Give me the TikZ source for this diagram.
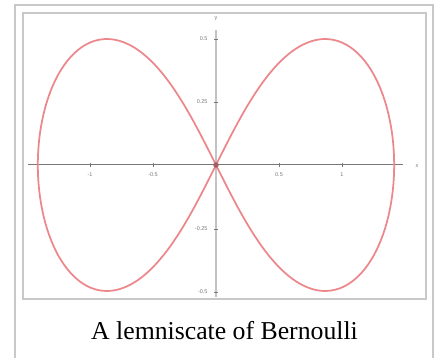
\documentclass[tikz,border=0pt]{standalone}
\usepackage{fontspec}
\setmainfont{Liberation Serif}
\setsansfont{Liberation Sans}
\definecolor{framegray}{RGB}{200,200,200}
\definecolor{axisgray}{RGB}{120,120,120}
\definecolor{yaxisgray}{RGB}{195,195,195}
\definecolor{curvered}{RGB}{236,135,140}
\definecolor{labelgray}{RGB}{120,120,120}

\begin{document}
\begin{tikzpicture}[x=0.4pt, y=-0.4pt,
    frame/.style={draw=framegray, line width=0.8pt},
    xaxis/.style={draw=axisgray, line width=0.4pt},
    yaxis/.style={draw=yaxisgray, line width=0.8pt},
    tick/.style={draw=axisgray, line width=0.3pt},
    ticklabel/.style={text=labelgray, font=\sffamily\fontsize{2.2}{2.6}\selectfont, inner sep=0pt},
    curve/.style={draw=curvered, line width=0.7pt}
  ]
  \useasboundingbox (0,0) rectangle (435,358);
  % frames
  \draw[frame] (15,360) -- (15,5) -- (433,5) -- (433,360);
  \draw[frame] (23,13) rectangle (426,299);
  % axes
  \draw[xaxis] (28,165) -- (403,165);
  \draw[yaxis] (216,30) -- (216,297);
  \node[ticklabel] (xlbl) at (417,166) {x};
  \node[ticklabel] (ylbl) at (216,19) {y};
  \foreach \px/\lbl in {90/-1, 153/-0.5, 279/0.5, 342/1} {
    \draw[tick] (\px,163) -- (\px,167);
    \node[ticklabel] (xt\px) at (\px,175) {\lbl};
  }
  \foreach \py/\lbl in {39/0.5, 102/0.25, 229/-0.25, 292/-0.5} {
    \draw[tick] (214,\py) -- (218,\py);
    \node[ticklabel, anchor=east] (yt\py) at (208,\py) {\lbl};
  }
  % lemniscate (x^2+y^2)^2 = 2(x^2-y^2)
  \begin{scope}[shift={(216,165)}, x=50.4pt, y=100.8pt]
    \draw[curve] plot[domain=0:360, samples=240, smooth, variable=\t]
      ({1.41421*cos(\t)/(1+sin(\t)^2)}, {1.41421*sin(\t)*cos(\t)/(1+sin(\t)^2)}) -- cycle;
    \fill[curvered!70!black] (0,0) circle (1.1pt);
  \end{scope}
  \node[font=\fontsize{10.3}{12}\selectfont, inner sep=0pt] (caption) at (224.5,331) {A lemniscate of Bernoulli};
\end{tikzpicture}
\end{document}
